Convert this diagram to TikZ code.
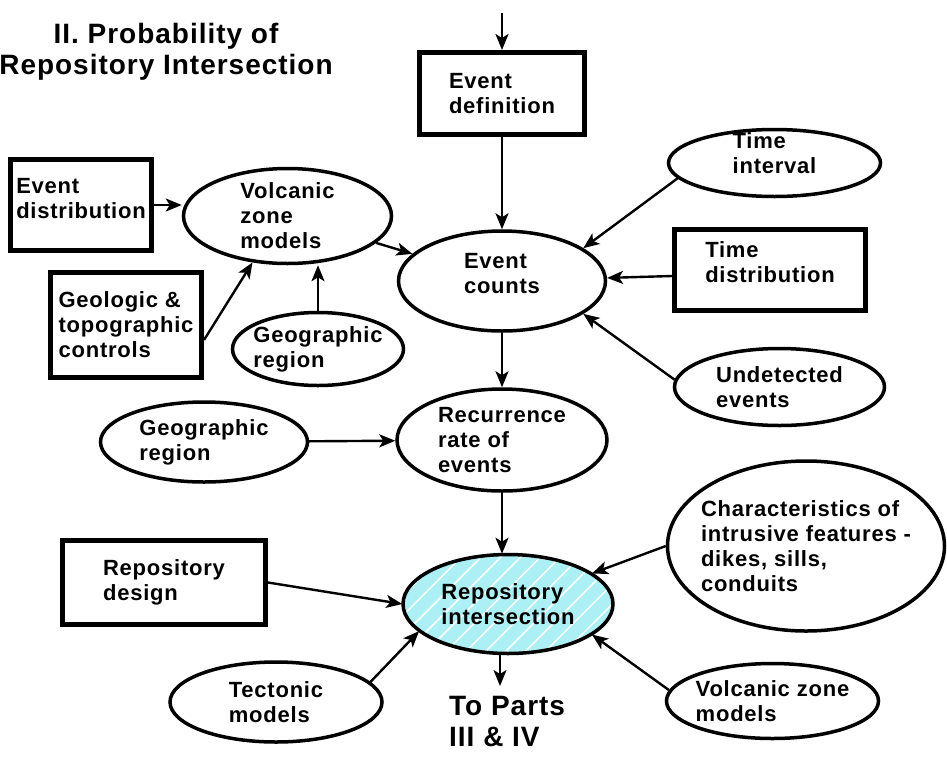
\documentclass[tikz,border=0pt]{standalone}
\usepackage{fontspec}
\setmainfont{Liberation Sans}
\newfontfamily\labelfont[LetterSpace=3.5]{Liberation Sans}
\usepackage{tikz}
\usetikzlibrary{shapes}
\usetikzlibrary{arrows.meta,patterns.meta}
\definecolor{hatchcyan}{RGB}{172,240,246}

\begin{document}
\begin{tikzpicture}[x=1pt,y=-1pt,->,>={Stealth[length=16pt,width=13pt,inset=4pt]},
                    line width=2.4pt]
  \tikzstyle{every node}=[font=\labelfont\bfseries\fontsize{22}{25}\selectfont,align=left]
  \tikzstyle{oval}=[draw,ellipse,line width=3.5pt,inner xsep=-15pt,inner ysep=-8pt]
  \tikzstyle{box}=[draw,rectangle,line width=5pt,inner sep=0pt]
  \tikzstyle{big}=[font=\labelfont\bfseries\fontsize{28}{31}\selectfont]

  \useasboundingbox (0,0) rectangle (947,761);

  \node[big,align=center] (Title) at (166,52) {II. Probability of\\Repository Intersection};

  \coordinate (In) at (502,13);
  \node[box,minimum width=165pt,minimum height=82pt] (Def) at (502,93.5) {Event\\definition};
  \node[oval,minimum width=207pt,minimum height=100pt,text depth=16pt] (Cnt) at (502,281) {Event\\counts};

  \node[oval,minimum width=208pt,minimum height=95pt] (Vzm) at (287.5,216) {Volcanic\\zone\\models};
  \node[box,minimum width=141pt,minimum height=91pt,text depth=14pt] (Edist) at (81,205) {Event\\distribution};
  \node[box,minimum width=151pt,minimum height=105pt] (Geo) at (126,325) {Geologic \&\\topographic\\controls};
  \node[oval,minimum width=171pt,minimum height=73pt] (Reg) at (318,349) {Geographic\\region};

  \node[oval,minimum width=212pt,minimum height=67pt,text depth=20pt] (Tint) at (774.5,163) {Time\\interval};
  \node[box,minimum width=191pt,minimum height=81pt,text depth=16pt] (Tdist) at (770,270) {Time\\distribution};
  \node[oval,minimum width=210pt,minimum height=77pt] (Und) at (779.5,387) {Undetected\\events};

  \node[oval,minimum width=207pt,minimum height=80pt] (Reg2) at (204,442) {Geographic\\region};
  \node[oval,minimum width=210pt,minimum height=102pt] (Rec) at (502,440) {Recurrence\\rate of\\events};

  \node[oval,minimum width=210pt,minimum height=99pt,preaction={fill=hatchcyan},
        pattern={Lines[angle=45,distance=14pt,line width=1.5pt]},pattern color=white]
        (Rep) at (508,604) {Repository\\intersection};
  \node[box,minimum width=203pt,minimum height=84pt] (Des) at (164,582.5) {Repository\\design};
  \node[oval,minimum width=212pt,minimum height=80pt] (Tec) at (276,702) {Tectonic\\models};
  \node[oval,minimum width=277pt,minimum height=170pt] (Char) at (806,546)
        {Characteristics of\\intrusive features -\\dikes, sills,\\conduits};
  \node[oval,minimum width=212pt,minimum height=75pt] (Vzm2) at (772.5,701) {Volcanic zone\\models};

  \coordinate (Out) at (500,686);
  \node[big,anchor=north west,inner sep=0pt] (Parts) at (448,695) {To Parts\\III \& IV};

  \path (In)    edge (Def)
        (Def)   edge (Cnt)
        (Edist.east) edge (Edist.east -| Vzm.west)
        ([yshift=-15pt]Geo.east) edge (Vzm.233)
        (Reg.north)  edge (Reg.north |- Vzm.south)
        (Vzm)   edge (Cnt)
        (Tint.189)   edge (Cnt.22)
        ([yshift=-6pt]Tdist.west) edge (Cnt)
        (Und.176)    edge (Cnt.338)
        (Cnt)   edge (Rec)
        (Reg2)  edge (Rec)
        (Rec.south)  edge (Rec.south |- Rep.north)
        (Des.east)   edge (Rep.west)
        (Tec.12)     edge (Rep.197)
        (Char.west)  edge (Rep.20)
        (Vzm2.174)   edge (Rep.340)
        (Rep.south -| Out) edge (Out);
\end{tikzpicture}
\end{document}
